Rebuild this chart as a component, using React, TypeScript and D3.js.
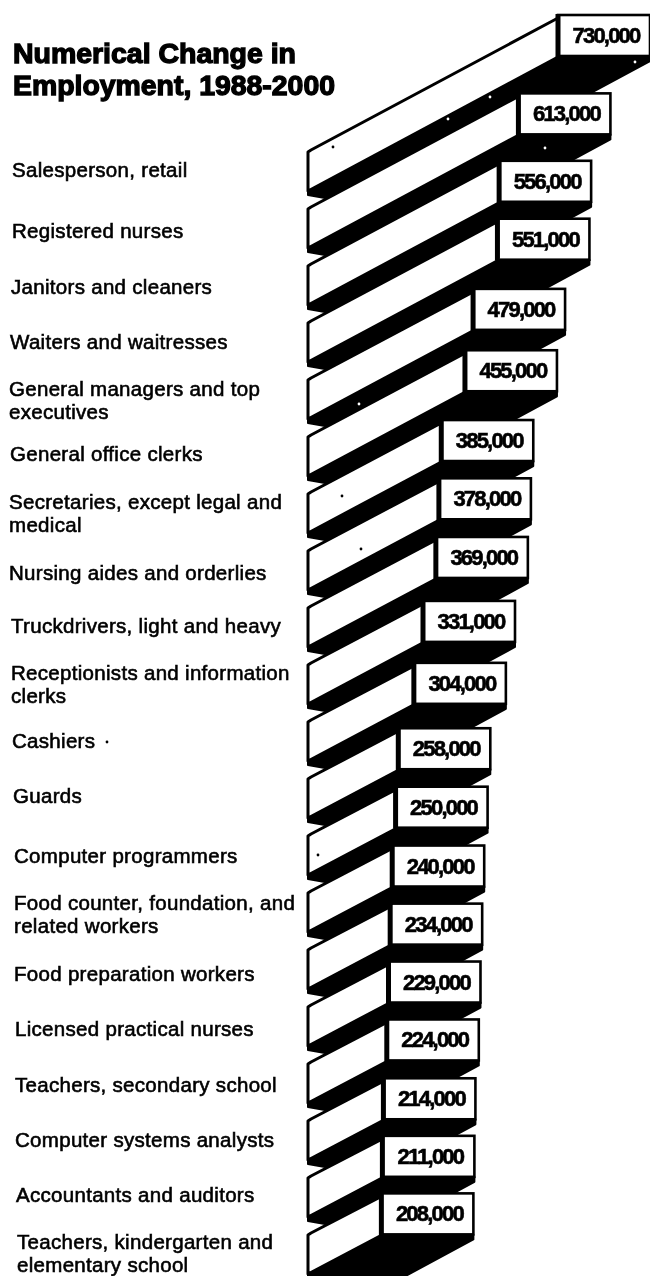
import React from "react";
import * as d3 from "d3";

const occupations: string[][] = [
  ["Salesperson, retail"],
  ["Registered nurses"],
  ["Janitors and cleaners"],
  ["Waiters and waitresses"],
  ["General managers and top", "executives"],
  ["General office clerks"],
  ["Secretaries, except legal and", "medical"],
  ["Nursing aides and orderlies"],
  ["Truckdrivers, light and heavy"],
  ["Receptionists and information", "clerks"],
  ["Cashiers"],
  ["Guards"],
  ["Computer programmers"],
  ["Food counter, foundation, and", "related workers"],
  ["Food preparation workers"],
  ["Licensed practical nurses"],
  ["Teachers, secondary school"],
  ["Computer systems analysts"],
  ["Accountants and auditors"],
  ["Teachers, kindergarten and", "elementary school"],
];
const values = [730000, 613000, 556000, 551000, 479000, 455000, 385000, 378000, 369000, 331000, 304000, 258000, 250000, 240000, 234000, 229000, 224000, 214000, 211000, 208000];
const titleLines = ["Numerical Change in", "Employment, 1988-2000"];

// layout of the hand-set labels (separate from the data)
const labelX = [12, 12, 11, 10, 9, 10, 9, 9, 11, 11, 12, 13, 14, 14, 14, 15, 15, 15, 16, 17];
const labelY = [169, 230, 286, 341, 388, 453, 501, 572, 625, 672, 740, 795, 855, 902, 973, 1028, 1084, 1139, 1194, 1241];
const titleWidths = [283, 322];
const specks: [number, number, string][] = [
  [333, 147, "#000"], [107, 742, "#000"], [342, 496, "#000"], [361, 549, "#000"], [318, 855, "#000"],
  [635, 62, "#fff"], [490, 97, "#fff"], [448, 119, "#fff"], [545, 148, "#fff"], [359, 404, "#fff"],
];

const W = 650, H = 1276;
const left = 308, boxW = 92, boxH = 41, rise = 0.54, lineGap = 23;
const x = d3.scaleLinear().domain([0, 730000]).range([311, 558]);
const yIdx = d3.scaleLinear().domain([0, 19]).range([150, 1233]);
const poly = d3.line<[number, number]>().curve(d3.curveLinearClosed);
const font = "'Liberation Sans', Arial, sans-serif";

export default function App() {
  return (
    <svg width={W} height={H} viewBox={`0 0 ${W} ${H}`} style={{ position: "absolute", left: 0, top: 0, background: "#fff" }}>
      <defs>
        <filter id="soft" x="-5%" y="-5%" width="110%" height="110%">
          <feGaussianBlur stdDeviation="0.5" />
        </filter>
      </defs>
      <g filter="url(#soft)">
        {titleLines.map((t, i) => (
          <text key={t} x={13} y={62.5 + i * 32} fontFamily={font} fontWeight={700} fontSize={27} stroke="#000" strokeWidth={1.3} textLength={titleWidths[i]} lengthAdjust="spacingAndGlyphs">
            {t}
          </text>
        ))}
        {values.map((v, i) => {
          const xf = x(v);
          const yT = yIdx(i);
          const boxT = yT - rise * (xf - left);
          const yB = yT + boxH;
          const boxB = boxT + boxH;
          const shadow = poly([
            [left, yB],
            [xf, boxB],
            [xf + boxW, boxB],
            [xf + boxW, boxB + 5],
            [xf, boxB + 5 + boxW * rise],
            [325, yB + 7],
            [left, yB + 4],
          ]);
          const front = poly([[left, yT + 2], [left + 3, yT], [xf, boxT + 3], [xf, boxB + 1], [left, yB]]);
          return (
            <g key={v}>
              <path d={shadow!} fill="#000" stroke="#000" strokeWidth={2} strokeLinejoin="round" />
              <path d={front!} fill="#fff" stroke="#000" strokeWidth={3} strokeLinejoin="round" />
              <rect x={xf} y={boxT} width={boxW} height={boxH} fill="#fff" stroke="#000" strokeWidth={2.6} />
              <line x1={xf} x2={xf} y1={boxT - 1} y2={boxB + 1} stroke="#000" strokeWidth={5} />
              <text x={xf + boxW / 2 + 2} y={boxT + boxH / 2 + 7.5} textAnchor="middle" fontFamily={font} fontWeight={700} fontSize={22} letterSpacing={-1.8} stroke="#000" strokeWidth={0.6}>
                {d3.format(",")(v)}
              </text>
            </g>
          );
        })}
        {occupations.map((lines, i) =>
          lines.map((l, j) => (
            <text key={l} x={labelX[i]} y={labelY[i] + 8 + j * lineGap} fontFamily={font} fontWeight={400} fontSize={20.5} letterSpacing={0.3} stroke="#000" strokeWidth={0.6}>
              {l}
            </text>
          ))
        )}
        {specks.map(([sx, sy, c], i) => (
          <circle key={i} cx={sx} cy={sy} r={1.4} fill={c} />
        ))}
      </g>
    </svg>
  );
}
